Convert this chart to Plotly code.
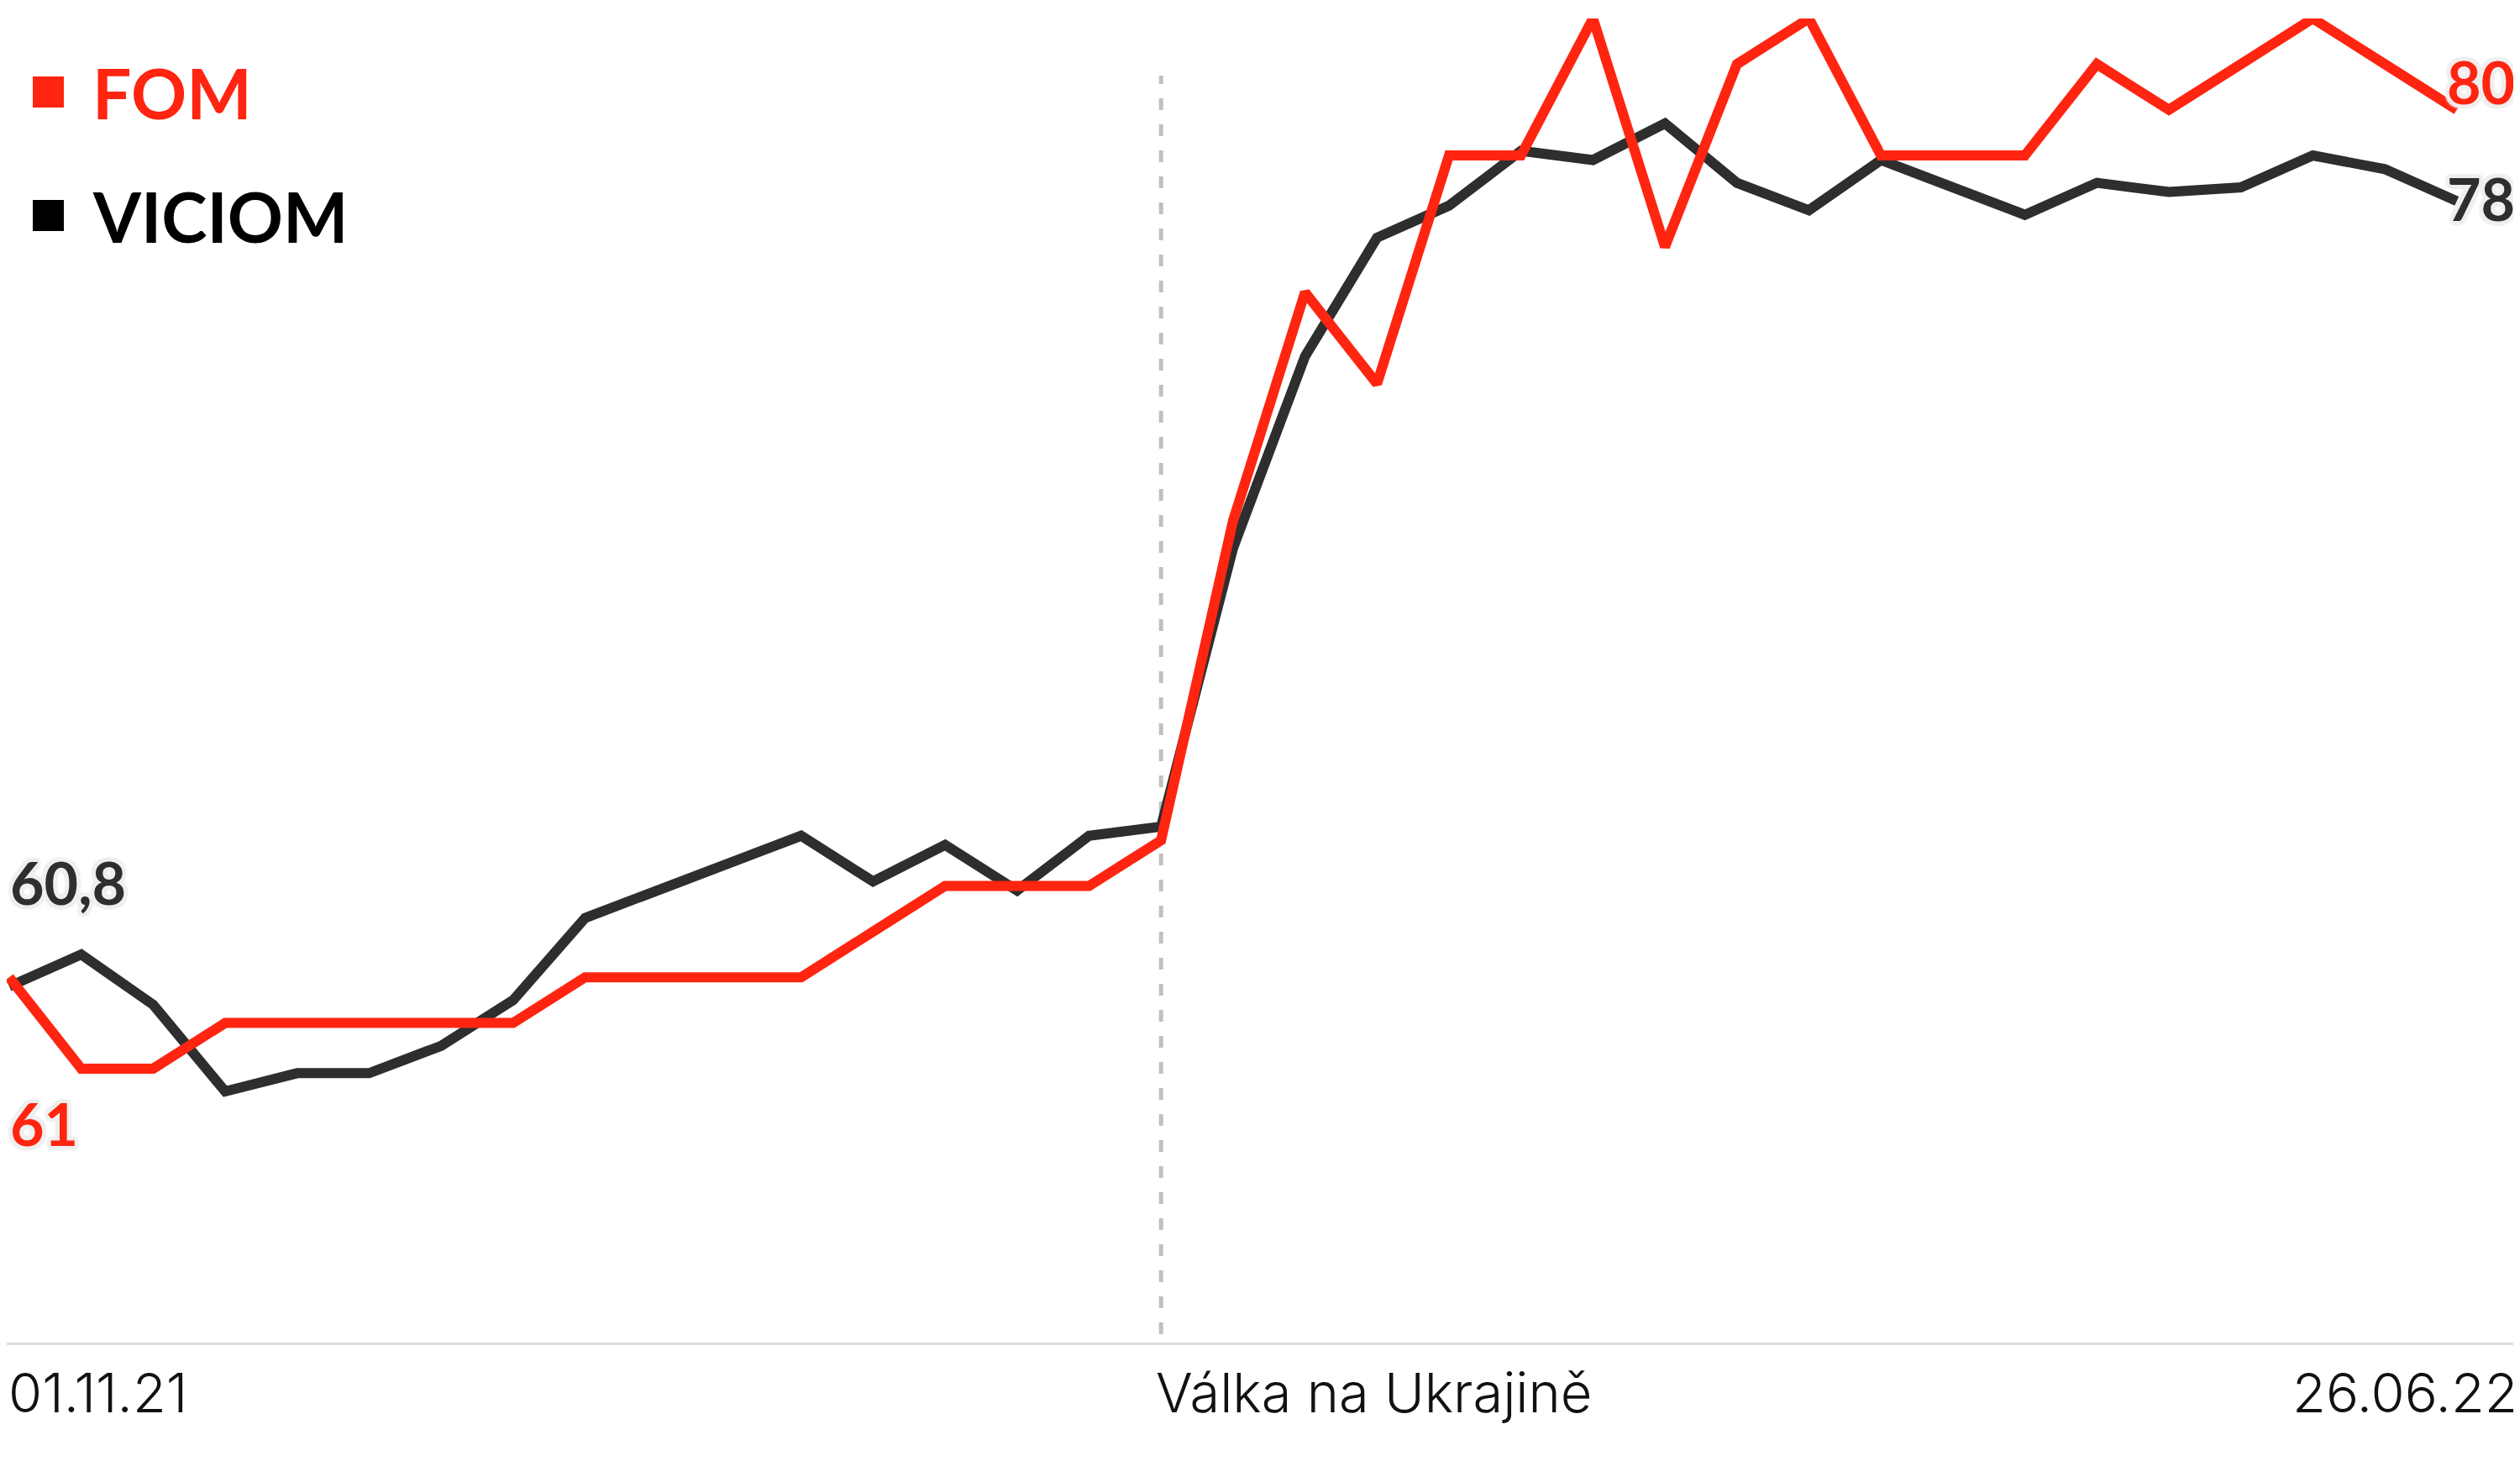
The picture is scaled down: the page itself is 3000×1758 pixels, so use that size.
import plotly.graph_objects as go

# ---- data ----
weeks = list(range(35))  # weekly survey waves, 01.11.21 .. 26.06.22
fom = [61, 59, 59, 60, 60, 60, 60, 60, 61, 61, 61, 61, 62, 63, 63, 63, 64,
       71, 76, 74, 79, 79, 82, 77, 81, 82, 79, 79, 79, 81, 80, 81, 82, 81, 80]
vciom = [60.8, 61.5, 60.4, 58.5, 58.9, 58.9, 59.5, 60.5, 62.3, 62.9, 63.5, 64.1,
         63.1, 63.9, 62.9, 64.1, 64.3, 70.4, 74.6, 77.2, 77.9, 79.1, 78.9, 79.7,
         78.4, 77.8, 78.9, 78.3, 77.7, 78.4, 78.2, 78.3, 79.0, 78.7, 78.0]
series_names = ["FOM", "VICIOM"]
start_label = "01.11.21"
end_label = "26.06.22"
event_label = "Válka na Ukrajině"
event_index = 16

RED = "#FF2510"
DARK = "#2E2E2E"
OFF = 8  # browser body margin
W, H = 3000 - OFF, 1758 - OFF
ML, MR, MT, MB = 0, 0, 14, 160
PW, PH = W - ML - MR, H - MT - MB


def px_x(p):  # page pixel -> paper
    return (p - OFF - ML) / PW


def px_y(p):
    return (H - MB - (p - OFF)) / PH


def fmt(v):
    return f"{v:g}".replace(".", ",")


fig = go.Figure()
fig.add_trace(go.Scatter(x=weeks, y=vciom, mode="lines", name=series_names[1],
                         line=dict(color=DARK, width=12), showlegend=False))
fig.add_trace(go.Scatter(x=weeks, y=fom, mode="lines", name=series_names[0],
                         line=dict(color=RED, width=12), showlegend=False))

# war marker
fig.add_shape(type="line", xref="x", yref="paper", x0=event_index, x1=event_index,
              y0=px_y(1588), y1=px_y(90),
              line=dict(color="#C0C0C0", width=5, dash="14px,17px"), layer="below")

hc = "#EFEFEF"
halo = ", ".join(f"{dx}px {dy}px 2px {hc}" for dx, dy in
                 [(5, 0), (-5, 0), (0, 5), (0, -5), (4, 4), (-4, -4), (4, -4), (-4, 4)])
VF = "Lato"


def val_font(color):
    return dict(family=VF, size=70, color=color, weight=700, shadow=halo)


# end value labels
fig.add_annotation(x=weeks[0], y=vciom[0], text=fmt(vciom[0]), showarrow=False,
                   xanchor="left", yanchor="middle", xshift=-1, yshift=124,
                   font=val_font(DARK))
fig.add_annotation(x=weeks[0], y=fom[0], text=fmt(fom[0]), showarrow=False,
                   xanchor="left", yanchor="middle", xshift=-1, yshift=-174,
                   font=val_font(RED))
fig.add_annotation(x=weeks[-1], y=fom[-1], text=fmt(fom[-1]), showarrow=False,
                   xanchor="right", yanchor="middle", xshift=71, yshift=34,
                   font=val_font(RED))
fig.add_annotation(x=weeks[-1], y=vciom[-1], text=fmt(vciom[-1]), showarrow=False,
                   xanchor="right", yanchor="middle", xshift=71, yshift=3,
                   font=val_font(DARK))

# legend
for name, color, top in [(series_names[0], RED, 91), (series_names[1], "#000000", 238)]:
    fig.add_shape(type="rect", xref="paper", yref="paper",
                  x0=px_x(39), x1=px_x(76), y0=px_y(top + 37), y1=px_y(top),
                  fillcolor=color, line=dict(width=0))
    fig.add_annotation(xref="paper", yref="paper", x=px_x(108), y=px_y(top + 19),
                       text=name, showarrow=False, xanchor="left", yanchor="middle",
                       font=dict(family=VF, size=82, color=color, weight=700))

# bottom labels
lab_font = dict(family="Inter", size=65, color="#111111", weight=300)
fig.add_annotation(xref="paper", yref="paper", x=0, y=px_y(1657), text=start_label,
                   showarrow=False, xanchor="left", yanchor="middle", font=lab_font)
fig.add_annotation(xref="x", yref="paper", x=event_index, y=px_y(1657), text=event_label,
                   showarrow=False, xanchor="left", yanchor="middle", xshift=-8, font=lab_font)
fig.add_annotation(xref="paper", yref="paper", x=1.0, y=px_y(1657), text=end_label,
                   showarrow=False, xanchor="right", yanchor="middle", font=lab_font)

x_lo = -3 / 85.7
x_hi = x_lo + PW / 85.7
fig.update_layout(
    width=W, height=H,
    margin=dict(l=ML, r=MR, t=MT, b=MB),
    paper_bgcolor="white", plot_bgcolor="white",
    xaxis=dict(range=[x_lo, x_hi], showgrid=False, zeroline=False, showticklabels=False,
               ticks="", showline=True, linecolor="#DDDDDD", linewidth=3),
    yaxis=dict(range=[53, 82], showgrid=False, zeroline=False, showticklabels=False,
               ticks="", showline=False),
    showlegend=False,
)

fig.write_html("out.html")
